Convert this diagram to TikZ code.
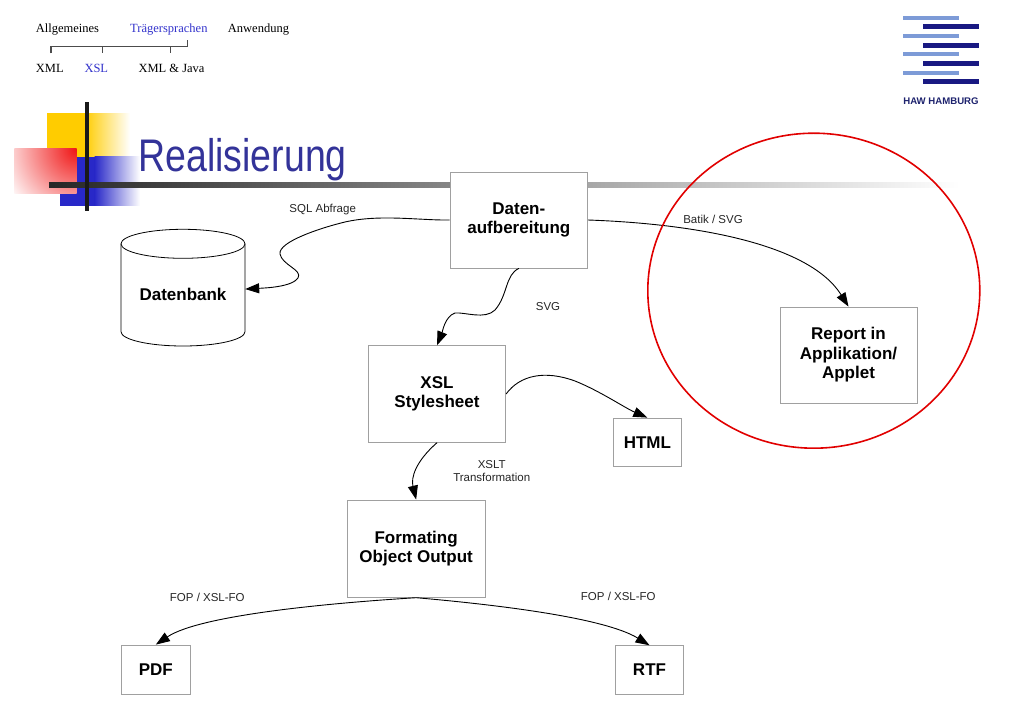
\documentclass[tikz,border=0pt]{standalone}
\usepackage{fontspec}
\setmainfont{Liberation Serif}
\newfontfamily\hsans{Liberation Sans}
\usetikzlibrary{arrows.meta}
\definecolor{crumbblue}{RGB}{51,51,204}
\definecolor{titleblue}{RGB}{51,51,153}
\definecolor{boxgray}{RGB}{160,160,160}
\definecolor{lightbar}{RGB}{125,155,215}
\definecolor{darkbar}{RGB}{25,25,130}
\definecolor{hawnavy}{RGB}{30,35,110}
\definecolor{decoyellow}{RGB}{255,204,0}
\definecolor{decored}{RGB}{240,20,20}
\definecolor{decoblue}{RGB}{40,40,200}
\definecolor{ringred}{RGB}{225,0,0}
\begin{document}
\begin{tikzpicture}[x=1pt,y=-1pt,
  box/.style={draw=boxgray, line width=0.8pt, fill=white, inner sep=0pt, align=center,
    font=\hsans\bfseries\fontsize{17}{19.5}\selectfont},
  elabel/.style={font=\hsans\fontsize{11.5}{12.5}\selectfont, align=center, inner sep=0pt, text=black!85},
  conn/.style={line width=0.9pt, -{Triangle[length=14pt,width=10pt]}},
  crumb/.style={font=\fontsize{12.5}{14}\selectfont, anchor=base west, inner sep=0pt},
  bracket/.style={line width=1.2pt, black!70},
]
\fill[white] (0,0) rectangle (1023,708);
\useasboundingbox (0,0) rectangle (1023,708);

% title decoration
\fill[decoyellow] (46.7,113.3) rectangle (85,160);
\shade[left color=decoyellow, right color=white] (84.5,113.3) rectangle (130,160);
\fill[decoblue] (60,156.7) rectangle (95,205.7);
\shade[left color=decoblue, right color=white] (94.5,156.7) rectangle (140,205.7);
\begin{scope}
  \clip (14.3,149) rectangle (76.7,193.3);
  \fill[white] (14.3,149) rectangle (76.7,193.3);
  \shade[inner color=decored, outer color=white] (76.7,149) circle[radius=80pt];
\end{scope}
\shade[left color=black!85, right color=white] (49,182.7) rectangle (960,187.3);
\fill[black!90] (84.7,102) rectangle (88.7,210.7);
\node[anchor=base west, inner sep=0pt, text=titleblue, font=\hsans\fontsize{45.7}{50}\selectfont] (title) at (138.3,171.7) {\scalebox{0.82}[1]{Realisierung}};

% breadcrumb
\node[crumb] (c1) at (35.7,32.3) {Allgemeines};
\node[crumb, text=crumbblue] (c2) at (130,32.3) {Trägersprachen};
\node[crumb] (c3) at (227.7,32.3) {Anwendung};
\node[crumb] (s1) at (35.7,72.3) {XML};
\node[crumb, text=crumbblue] (s2) at (84.3,72.3) {XSL};
\node[crumb] (s3) at (138.3,72.3) {XML \& Java};
\draw[bracket] (51,53.3) -- (51,46.7) -- (187.3,46.7) -- (187.3,40);
\draw[bracket] (102.3,46.7) -- (102.3,53.3) (170.7,46.7) -- (170.7,53.3);

% logo
\foreach \yy in {17.7,36,54.3,73} \fill[lightbar] (903,\yy-2) rectangle (959,\yy+2);
\foreach \yy in {27,45.3,63.7,82} \fill[darkbar] (923,\yy-2.5) rectangle (979,\yy+2.5);
\node[font=\hsans\bfseries\fontsize{9.6}{10}\selectfont, text=hawnavy, inner sep=0pt] (haw) at (941,100.7) {HAW HAMBURG};

% database cylinder
\draw[line width=0.8pt, fill=white] (121,243.8) -- (121,331.7) .. controls (121,339.6) and (148.8,346) .. (183,346) .. controls (217.2,346) and (245,339.6) .. (245,331.7) -- (245,243.8);
\draw[line width=0.8pt, fill=white] (183,243.8) ellipse [x radius=62pt, y radius=14.5pt];
\node[inner sep=0pt, minimum width=124pt, minimum height=102pt, font=\hsans\bfseries\fontsize{17}{19.5}\selectfont] (db) at (183,294.5) {Datenbank};

% boxes
\node[box, minimum width=137.7pt, minimum height=96pt] (dat) at (518.85,220) {Daten-\\aufbereitung};
\node[box, minimum width=137.4pt, minimum height=96.6pt] (xsl) at (437,394) {XSL\\Stylesheet};
\node[box, minimum width=137pt, minimum height=96pt] (report) at (848.5,355) {Report in\\Applikation/\\Applet};
\node[box, minimum width=68.7pt, minimum height=48.7pt] (html) at (647.35,442.35) {HTML};
\node[box, minimum width=137.7pt, minimum height=97.3pt] (form) at (416.15,548.65) {Formating\\Object Output};
\node[box, minimum width=68.3pt, minimum height=49pt] (pdf) at (155.85,669.5) {PDF};
\node[box, minimum width=67.6pt, minimum height=48.3pt] (rtf) at (649.5,669.85) {RTF};

% connectors
\draw[conn] (dat.west) .. controls (420,220.5) and (380,214) .. (345,222) .. controls (320,228) and (278,242) .. (280,254) .. controls (282,265) and (303,270) .. (298,278) .. controls (292,287) and (265,288) .. (db.5.5);
\draw[conn] (dat.south) .. controls (505,275) and (508,295) .. (495,310) .. controls (485,320) and (465,312) .. (455,313) .. controls (445,316) and (442,333) .. (xsl.north);
\draw[conn] (dat.east) .. controls (700,224) and (810,245) .. (report.north);
\draw[conn] (xsl.east) .. controls (520,375) and (545,370) .. (575,381) .. controls (600,391) and (625,408) .. (html.north);
\draw[conn] (xsl.south) .. controls (415,462) and (411,478) .. (form.north);
\draw[conn] (form.south) .. controls (330,603) and (200,615) .. (pdf.north);
\draw[conn] (form.south) .. controls (500,605) and (605,618) .. (rtf.north);

% red ring
\draw[ringred, line width=1.6pt] (813.8,290.7) ellipse [x radius=166pt, y radius=157.5pt];

% labels
\node[elabel] (lsql) at (322.7,210) {SQL Abfrage};
\node[elabel] (lsvg) at (548,306.7) {SVG};
\node[elabel] (lbatik) at (713,219) {Batik / SVG};
\node[elabel] (lxslt) at (491.7,471) {XSLT\\Transformation};
\node[elabel] (lfop1) at (207.3,597.3) {FOP / XSL-FO};
\node[elabel] (lfop2) at (618.3,596.7) {FOP / XSL-FO};
\end{tikzpicture}
\end{document}
